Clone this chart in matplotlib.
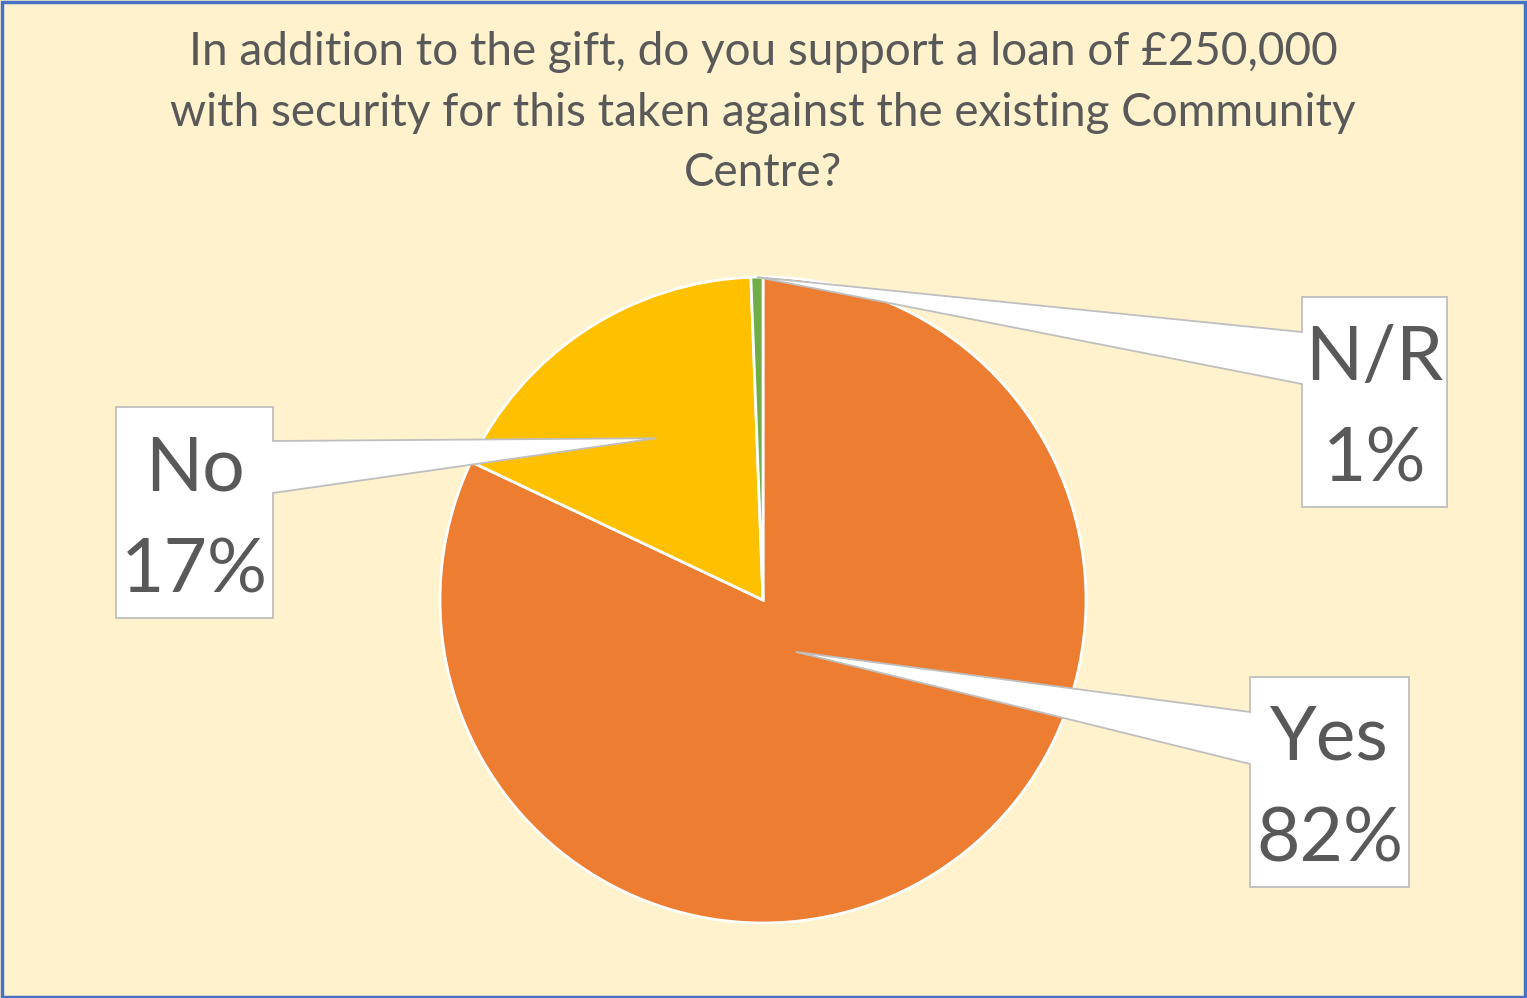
import numpy as np
import matplotlib
matplotlib.use('Agg')
import matplotlib.pyplot as plt
from matplotlib.patches import Polygon, Rectangle

plt.rcParams['font.family'] = ['Lato', 'DejaVu Sans']

# survey answers (respondent counts), order = clockwise from 12 o'clock
labels = ['Yes', 'No', 'N/R']
counts = [137, 29, 1]
pcts = ['82%', '17%', '1%']
slice_colors = ['#ED7D31', '#FFC000', '#70AD47']

title = ('In addition to the gift, do you support a loan of £250,000\n'
         'with security for this taken against the existing Community\n'
         'Centre?')

# callout layout, pixel boxes (left, top, right, bottom), side of pointer,
# pointer root y's, and how deep into the slice the pointer goes
W, H = 1527, 998
CX, CY, R = 763, 600, 323
boxes = {
    'Yes': ((1250, 677, 1409, 887), 'left', (712, 764), 0.19),
    'No': ((116, 407, 273, 618), 'right', (441, 493), 0.60),
    'N/R': ((1302, 297, 1447, 507), 'left', (332, 384), 1.0),
}

def px(x, y):
  return (x - CX) / R, (CY - y) / R

fig = plt.figure(figsize=(W / 100, H / 100), dpi=100)
fig.patch.set_facecolor('#FFF2CC')
ax = fig.add_axes([0, 0, 1, 1])
ax.set_facecolor('#FFF2CC')

wedges, _ = ax.pie(counts, colors=slice_colors, startangle=90, counterclock=False,
                   radius=1, center=(0, 0),
                   wedgeprops=dict(edgecolor='white', linewidth=2))

ax.set_xlim(-CX / R, (W - CX) / R)
ax.set_ylim(-(H - CY) / R, CY / R)
ax.set_aspect('auto')
ax.axis('off')

for w, lab, pct in zip(wedges, labels, pcts):
  (l, t, r, b), side, (y1, y2), depth = boxes[lab]
  mid = np.deg2rad((w.theta1 + w.theta2) / 2)
  tip = (depth * np.cos(mid), depth * np.sin(mid))
  if side == 'right':
    pts = [px(l, t), px(r, t), px(r, y1), tip, px(r, y2), px(r, b), px(l, b)]
  else:
    pts = [px(l, t), px(r, t), px(r, b), px(l, b), px(l, y2), tip, px(l, y1)]
  ax.add_patch(Polygon(pts, closed=True, facecolor='white', edgecolor='#BFBFBF',
                       linewidth=1.3, zorder=5))
  mx = (l + r) / 2
  my = (t + b) / 2
  # two lines, baselines placed like the Excel callout
  ax.text(*px(mx, my - 22), lab, ha='center', va='baseline', fontsize=54,
          color='#595959', zorder=6)
  ax.text(*px(mx, my + 80), pct, ha='center', va='baseline', fontsize=54,
          color='#595959', zorder=6)

fig.text(763 / W, 1 - 31 / H, title, ha='center', va='top', fontsize=33,
         color='#595959', linespacing=1.55)

fig.patches.append(Rectangle((0.001, 0.001), 0.998, 0.997, transform=fig.transFigure,
                             fill=False, edgecolor='#4472C4', linewidth=2.5))

fig.savefig('out.png', dpi=100, facecolor=fig.get_facecolor())
